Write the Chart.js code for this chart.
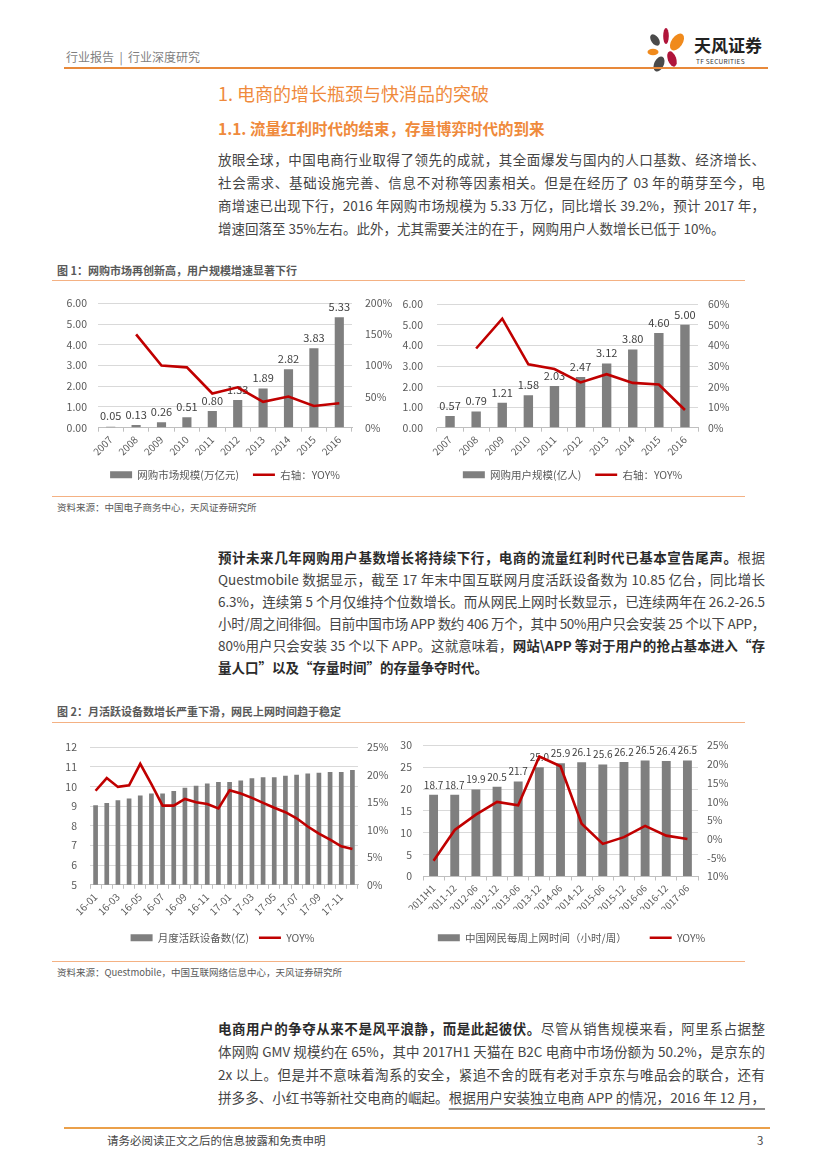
<!DOCTYPE html>
<html lang="zh-CN">
<head>
<meta charset="UTF-8">
<title>电商的增长瓶颈与快消品的突破</title>
<script src="https://cdn.jsdelivr.net/npm/chart.js"></script>
<style>
    body {
        margin: 0;
        background: #fff;
        font-family: "Noto Sans CJK SC", "Noto Sans", sans-serif;
    }
    .page { position: relative; width: 827px; height: 1169px; overflow: hidden; }
    .abs { position: absolute; }
    .hdr { left: 66px; top: 49px; font-size: 12px; line-height: 16px; color: #7f7f7f; }
    .rule { position: absolute; height: 0; }
    .h1 { left: 218px; top: 81px; font-size: 18px; line-height: 24px; color: #ef8a3c; }
    .h2 { left: 218px; top: 117px; font-size: 15.5px; line-height: 22px; color: #ef8a3c; font-weight: 700; }
    .para { position: absolute; left: 218px; width: 547px; font-size: 13.5px; color: #454545; }
    .para .ln { height: 23px; line-height: 23px; text-align: justify; text-align-last: justify; }
    .para.tight .ln { height: 22px; line-height: 22px; }
    .para .ln.last { text-align-last: left; }
    .para b { font-weight: 700; color: #2b2b2b; }
    .ul { text-decoration: underline; text-decoration-color: #8c8c8c; text-underline-offset: 5px; text-decoration-thickness: 1.5px; }
    .cap { left: 57px; font-size: 11px; line-height: 14px; font-weight: 700; color: #595959; }
    .src { left: 57px; font-size: 9.5px; line-height: 12px; color: #595959; }
    canvas { position: absolute; }
    .foot { left: 107px; top: 1133px; font-size: 11.5px; line-height: 15px; color: #444; }
    .pno { left: 757px; top: 1133px; font-size: 11.5px; line-height: 15px; color: #444; }
</style>
</head>
<body>
<div class="page">

    <div class="abs hdr">行业报告 &nbsp;|&nbsp; 行业深度研究</div>
    <svg class="abs" style="left:644px;top:27px" width="50" height="46" viewBox="0 0 50 46">
        <ellipse cx="11" cy="13" rx="3.8" ry="6.5" fill="#4a4a4a" transform="rotate(-35 11 13)"/>
        <ellipse cx="22" cy="9" rx="2.8" ry="8" fill="#b0143a"/>
        <ellipse cx="33" cy="15" rx="5.5" ry="9.5" fill="#f08a1c" transform="rotate(35 33 15)"/>
        <ellipse cx="9" cy="25" rx="5.5" ry="3.3" fill="#f08a1c"/>
        <ellipse cx="28" cy="32" rx="4.2" ry="8" fill="#b0143a" transform="rotate(-20 28 32)"/>
        <ellipse cx="15" cy="37" rx="4.8" ry="8" fill="#4a4a4a" transform="rotate(25 15 37)"/>
    </svg>
    <div class="abs" style="left:694px;top:35px;font-size:17px;line-height:20px;font-weight:700;color:#222;">天风证券</div>
    <div class="abs" style="left:696px;top:57px;font-size:6.5px;line-height:8px;letter-spacing:.3px;color:#333;">TF SECURITIES</div>
    <div class="rule" style="left:64px;top:67px;width:704px;border-top:2px solid #e8893a;"></div>

    <div class="abs h1">1. 电商的增长瓶颈与快消品的突破</div>
    <div class="abs h2">1.1. 流量红利时代的结束，存量博弈时代的到来</div>

    <div class="para" style="top:148px;">
        <div class="ln">放眼全球，中国电商行业取得了领先的成就，其全面爆发与国内的人口基数、经济增长、</div>
        <div class="ln">社会需求、基础设施完善、信息不对称等因素相关。但是在经历了 03 年的萌芽至今，电</div>
        <div class="ln">商增速已出现下行，2016 年网购市场规模为 5.33 万亿，同比增长 39.2%，预计 2017 年，</div>
        <div class="ln last">增速回落至 35%左右。此外，尤其需要关注的在于，网购用户人数增长已低于 10%。</div>
    </div>

    <div class="abs cap" style="top:263px;">图 1：网购市场再创新高，用户规模增速显著下行</div>
    <div class="rule" style="left:52px;top:280px;width:693px;border-top:1.5px solid #f4b183;"></div>
    <canvas id="c1" width="340" height="206" style="left:55px;top:284px;"></canvas>
    <canvas id="c2" width="355" height="206" style="left:395px;top:284px;"></canvas>
    <div class="rule" style="left:52px;top:496px;width:693px;border-top:1.5px solid #f4b183;"></div>
    <div class="abs src" style="top:501px;">资料来源：中国电子商务中心，天风证券研究所</div>

    <div class="para tight" style="top:546px;">
        <div class="ln"><b>预计未来几年网购用户基数增长将持续下行，电商的流量红利时代已基本宣告尾声。</b>根据</div>
        <div class="ln">Questmobile 数据显示，截至 17 年末中国互联网月度活跃设备数为 10.85 亿台，同比增长</div>
        <div class="ln">6.3%，连续第 5 个月仅维持个位数增长。而从网民上网时长数显示，已连续两年在 26.2-26.5</div>
        <div class="ln">小时/周之间徘徊。目前中国市场 APP 数约 406 万个，其中 50%用户只会安装 25 个以下 APP，</div>
        <div class="ln">80%用户只会安装 35 个以下 APP。这就意味着，<b>网站\APP 等对于用户的抢占基本进入“存</b></div>
        <div class="ln last"><b>量人口”以及“存量时间”的存量争夺时代。</b></div>
    </div>

    <div class="abs cap" style="top:704px;">图 2：月活跃设备数增长严重下滑，网民上网时间趋于稳定</div>
    <div class="rule" style="left:52px;top:722px;width:693px;border-top:1.5px solid #f4b183;"></div>
    <canvas id="c3" width="335" height="225" style="left:55px;top:728px;"></canvas>
    <canvas id="c4" width="357" height="225" style="left:393px;top:728px;"></canvas>
    <div class="rule" style="left:52px;top:961px;width:693px;border-top:1.5px solid #f4b183;"></div>
    <div class="abs src" style="top:966px;">资料来源：Questmobile，中国互联网络信息中心，天风证券研究所</div>

    <div class="para" style="top:1017px;">
        <div class="ln"><b>电商用户的争夺从来不是风平浪静，而是此起彼伏。</b>尽管从销售规模来看，阿里系占据整</div>
        <div class="ln">体网购 GMV 规模约在 65%，其中 2017H1 天猫在 B2C 电商中市场份额为 50.2%，是京东的</div>
        <div class="ln">2x 以上。但是并不意味着淘系的安全，紧追不舍的既有老对手京东与唯品会的联合，还有</div>
        <div class="ln">拼多多、小红书等新社交电商的崛起。<span class="ul">根据用户安装独立电商 APP 的情况，2016 年 12 月，</span></div>
    </div>

    <div class="rule" style="left:64px;top:1127px;width:706px;border-top:2px solid #eba04a;"></div>
    <div class="abs foot">请务必阅读正文之后的信息披露和免责申明</div>
    <div class="abs pno">3</div>
</div>

<script>
    // 图1 左：网购市场规模
    var years = ['2007', '2008', '2009', '2010', '2011', '2012', '2013', '2014', '2015', '2016'];
    var marketSize = [0.05, 0.13, 0.26, 0.51, 0.80, 1.33, 1.89, 2.82, 3.83, 5.33];
    var marketYoy = [null, 150, 100, 97, 55, 65, 41.5, 50, 35, 39.2];

    // 图1 右：网购用户规模
    var userSize = [0.57, 0.79, 1.21, 1.58, 2.03, 2.47, 3.12, 3.80, 4.60, 5.00];
    var userYoy = [null, 38.5, 53, 30.8, 28.5, 22, 26, 21.8, 21, 8.6];

    // 图2 左：月度活跃设备数
    var months = ['16-01', '16-02', '16-03', '16-04', '16-05', '16-06', '16-07', '16-08', '16-09', '16-10', '16-11', '16-12',
                  '17-01', '17-02', '17-03', '17-04', '17-05', '17-06', '17-07', '17-08', '17-09', '17-10', '17-11', '17-12'];
    var devices = [9.05, 9.17, 9.31, 9.39, 9.55, 9.65, 9.65, 9.78, 9.94, 10.04, 10.16, 10.23,
                   10.23, 10.31, 10.42, 10.47, 10.47, 10.55, 10.60, 10.66, 10.71, 10.74, 10.74, 10.85];
    var deviceYoy = [17.1, 19.4, 17.8, 18.1, 22.0, 18.3, 14.4, 14.4, 15.6, 15.0, 14.7, 13.9,
                     17.2, 16.6, 15.8, 14.9, 14.0, 13.2, 12.1, 10.6, 9.3, 8.2, 7.0, 6.5];

    // 图2 右：每周上网时间
    var periods = ['2011H1', '2011-12', '2012-06', '2012-12', '2013-06', '2013-12', '2014-06',
                   '2014-12', '2015-06', '2015-12', '2016-06', '2016-12', '2017-06'];
    var weeklyHours = [18.7, 18.7, 19.9, 20.5, 21.7, 25.0, 25.9, 26.1, 25.6, 26.2, 26.5, 26.4, 26.5];
    var hoursYoy = [-5.8, 2.4, 6.5, 9.9, 9.0, 22.0, 19.4, 4.1, -1.3, 0.5, 3.5, 0.9, 0.0];

    var GRAY = '#7f7f7f';
    var RED = '#c00000';

    Chart.defaults.font.family = '"Noto Sans CJK SC", "Noto Sans", sans-serif';
    Chart.defaults.color = '#595959';

    // fit each text line into the column before justifying
    document.querySelectorAll('.ln').forEach(function (el) {
        el.style.whiteSpace = 'nowrap';
        el.style.textAlignLast = 'left';
        var r = document.createRange();
        r.selectNodeContents(el);
        var w = r.getBoundingClientRect().width;
        if (w > el.clientWidth - 1) {
            el.style.letterSpacing = (-(w - el.clientWidth + 2) / el.textContent.length) + 'px';
        }
        el.style.whiteSpace = '';
        el.style.textAlignLast = '';
    });

    // values above the bars, drawn before the line so the line passes over them
    var barLabels = {
        id: 'barLabels',
        afterDatasetDraw: function (chart, args, opts) {
            if (!opts.show || args.index !== 0) return;
            var ctx = chart.ctx;
            var data = chart.data.datasets[0].data;
            ctx.save();
            ctx.font = opts.size + 'px "Noto Sans CJK SC", sans-serif';
            ctx.fillStyle = '#404040';
            ctx.textAlign = 'center';
            ctx.textBaseline = 'bottom';
            args.meta.data.forEach(function (bar, i) {
                ctx.fillText(data[i].toFixed(opts.digits), bar.x, bar.y - 5);
            });
            ctx.restore();
        }
    };

    function makeChart(id, o) {
        return new Chart(document.getElementById(id), {
            data: {
                labels: o.labels,
                datasets: [{
                    type: 'bar',
                    label: o.barName,
                    data: o.bars,
                    backgroundColor: GRAY,
                    pointStyle: 'rect',
                    barPercentage: o.barPct,
                    categoryPercentage: 1,
                    yAxisID: 'y',
                    order: 2
                }, {
                    type: 'line',
                    label: o.lineName,
                    data: o.line,
                    borderColor: RED,
                    backgroundColor: RED,
                    borderWidth: 2.6,
                    pointRadius: 0,
                    pointStyle: 'line',
                    tension: 0,
                    yAxisID: 'y1',
                    order: 1
                }]
            },
            options: {
                responsive: false,
                animation: false,
                layout: { padding: { top: o.top, left: 0, right: 0, bottom: 0 } },
                plugins: {
                    legend: {
                        position: 'bottom',
                        labels: {
                            usePointStyle: true,
                            pointStyleWidth: 22,
                            boxHeight: 7,
                            padding: o.legendPad,
                            color: '#595959',
                            font: { size: 10.5 },
                            sort: function (a, b) { return a.datasetIndex - b.datasetIndex; }
                        }
                    },
                    tooltip: { enabled: false },
                    barLabels: { show: o.showLabels, digits: o.digits, size: o.labelSize || 11 }
                },
                scales: {
                    x: {
                        grid: { drawOnChartArea: false, drawTicks: true, tickLength: 4, color: '#bfbfbf', offset: true },
                        border: { color: '#bfbfbf' },
                        ticks: {
                            minRotation: 45, maxRotation: 45, autoSkip: false, padding: 2,
                            font: { size: o.xFont || 10 },
                            callback: o.xTick || function (v) { return this.getLabelForValue(v); }
                        },
                        afterFit: function (s) { s.height = o.xH; }
                    },
                    y: {
                        position: 'left',
                        min: o.yMin, max: o.yMax,
                        ticks: { stepSize: o.yStep, padding: o.yPad, font: { size: 10.5 }, callback: o.yFmt },
                        grid: { color: '#d9d9d9', drawTicks: false },
                        border: { display: false },
                        afterFit: function (s) { s.width = o.yW; }
                    },
                    y1: {
                        position: 'right',
                        min: o.rMin, max: o.rMax,
                        ticks: { stepSize: o.rStep, padding: o.rPad, font: { size: 10.5 }, callback: o.rFmt },
                        grid: { drawOnChartArea: false, drawTicks: false },
                        border: { display: false },
                        afterFit: function (s) { s.width = o.rW; }
                    }
                }
            },
            plugins: [barLabels]
        });
    }

    function pct(v) { return v + '%'; }

    makeChart('c1', {
        labels: years, bars: marketSize, line: marketYoy,
        barName: '网购市场规模(万亿元)', lineName: '右轴：YOY%',
        barPct: 0.36, top: 14, xH: 27.8, legendPad: 14,
        showLabels: true, digits: 2,
        yMin: 0, yMax: 6, yStep: 1, yPad: 11, yW: 43, yFmt: function (v) { return v.toFixed(2); },
        rMin: 0, rMax: 200, rStep: 50, rPad: 13, rW: 43, rFmt: pct
    });

    makeChart('c2', {
        labels: years, bars: userSize, line: userYoy,
        barName: '网购用户规模(亿人)', lineName: '右轴：YOY%',
        barPct: 0.36, top: 14, xH: 27.8, legendPad: 14,
        showLabels: true, digits: 2,
        yMin: 0, yMax: 6, yStep: 1, yPad: 14, yW: 42, yFmt: function (v) { return v.toFixed(2); },
        rMin: 0, rMax: 60, rStep: 10, rPad: 10, rW: 52, rFmt: pct
    });

    makeChart('c3', {
        labels: months, bars: devices, line: deviceYoy,
        barName: '月度活跃设备数(亿)', lineName: 'YOY%',
        barPct: 0.42, top: 12, xH: 37.7, legendPad: 10,
        showLabels: false, digits: 2,
        xTick: function (v, i) { return i % 2 === 0 ? months[i] : ''; },
        yMin: 5, yMax: 12, yStep: 1, yPad: 13, yW: 35, yFmt: function (v) { return v; },
        rMin: 0, rMax: 25, rStep: 5, rPad: 9, rW: 32, rFmt: pct
    });

    makeChart('c4', {
        labels: periods, bars: weeklyHours, line: hoursYoy,
        barName: '中国网民每周上网时间（小时/周）', lineName: 'YOY%',
        barPct: 0.42, top: 14.7, xH: 33, legendPad: 23,
        showLabels: true, digits: 1, labelSize: 10, xFont: 9.5,
        yMin: 0, yMax: 30, yStep: 5, yPad: 11, yW: 30, yFmt: function (v) { return v; },
        rMin: -10, rMax: 25, rStep: 5, rPad: 9, rW: 52,
        rFmt: function (v) { return v === -10 ? '10%' : v + '%'; }
    });
</script>
</body>
</html>
